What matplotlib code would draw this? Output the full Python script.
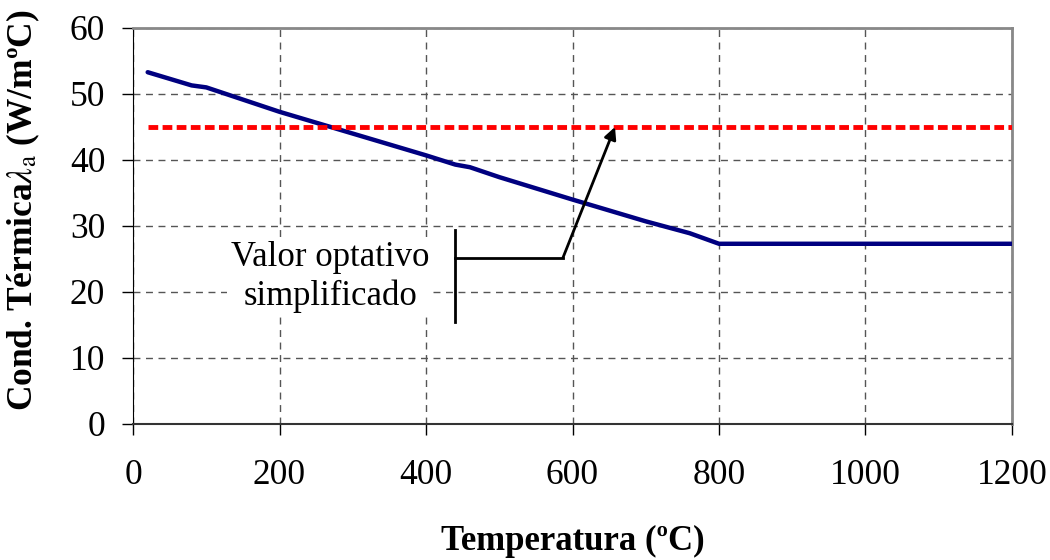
import numpy as np
import matplotlib.pyplot as plt

plt.rcParams['font.family'] = ['Liberation Serif', 'DejaVu Serif']
plt.rcParams['mathtext.fontset'] = 'stix'

# conductividad termica del acero
temp = [20, 80, 100, 200, 300, 400, 440, 460, 500, 600, 700, 760, 800, 1200]
cond = [53.3, 51.3, 51.0, 47.3, 44.0, 40.7, 39.3, 38.9, 37.4, 34.0, 30.7, 28.9, 27.3, 27.3]

simpl_x = [20, 1200]
simpl_y = [45, 45]

fig = plt.figure(figsize=(10.5, 5.6), dpi=100)
ax = fig.add_axes([0.1267, 0.243, 0.8371, 0.707])

ax.grid(True, ls=(0, (5, 4)), color='#555555', lw=1)
ax.plot(temp, cond, color='#000080', lw=3.2, solid_capstyle='round', zorder=3)
ax.plot(simpl_x, simpl_y, color='red', lw=3.5, ls=(0, (2.0, 0.9)), zorder=3)

ax.set_xlim(0, 1200)
ax.set_ylim(0, 60)
ax.set_xticks(np.arange(0, 1201, 200))
ax.set_yticks(np.arange(0, 61, 10))
ax.tick_params(direction='out', length=8, width=1, labelsize=25.5, color='black')
ax.tick_params(axis='x', pad=17)
ax.tick_params(axis='y', pad=12)

for s in ['top', 'right']:
    ax.spines[s].set_color('#888888')
    ax.spines[s].set_linewidth(2)
ax.spines['left'].set_color('black')
ax.spines['bottom'].set_color('#333333')
ax.spines['bottom'].set_linewidth(1.5)

ax.set_xlabel('Temperatura (ºC)', fontsize=25, fontweight='bold', labelpad=24)
ax.set_ylabel(r'Cond. Térmica$\lambda_\mathrm{a}$ (W/mºC)', fontsize=25.5,
              fontweight='bold')
ax.yaxis.set_label_coords(-0.104, 0.54)

# anotacion
ax.text(269, 22.3, 'Valor optativo\nsimplificado', fontsize=25,
        ha='center', va='center', linespacing=1.2,
        bbox=dict(boxstyle='square,pad=0.1', fc='white', ec='none'))
ax.plot([440, 440], [15.5, 29.4], color='black', lw=2)
ax.plot([440, 587], [25.2, 25.2], color='black', lw=2)
ax.annotate('', xy=(658, 45), xytext=(587, 25.2),
            arrowprops=dict(arrowstyle='-|>', color='black', lw=2, mutation_scale=18,
                            shrinkA=0, shrinkB=0))

fig.savefig('out.png', dpi=100)
